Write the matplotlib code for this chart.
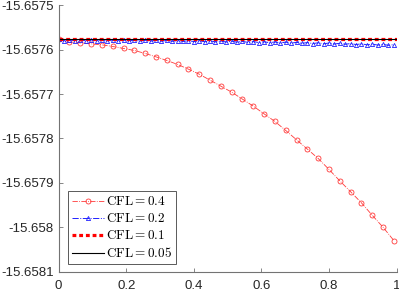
import matplotlib
matplotlib.use("Agg")
import matplotlib.pyplot as plt

plt.rcParams["font.family"] = ["Liberation Sans", "DejaVu Sans"]
plt.rcParams["mathtext.fontset"] = "cm"

BASE = -15.657577  # level of the converged (flat) solutions

# CFL=0.4: time levels and drop below BASE, in units of 1e-4
T_04 = [0.032 * i for i in range(32)]
DROP_04 = [0.0, 0.068, 0.077, 0.099, 0.122, 0.158, 0.203, 0.248, 0.315, 0.392,
           0.473, 0.563, 0.669, 0.782, 0.917, 1.052, 1.187, 1.345, 1.502, 1.676,
           1.847, 2.05, 2.26, 2.47, 2.68, 2.928, 3.185, 3.43, 3.68, 3.96, 4.23, 4.53]

# CFL=0.2
T_02 = [0.016 * i for i in range(63)]
DROP_02 = [0.00, 0.03, 0.01, 0.03, 0.01, 0.03, 0.01, 0.03, 0.01, 0.03,
           0.013, 0.033, 0.014, 0.034, 0.015, 0.036, 0.017, 0.038, 0.019, 0.040,
           0.021, 0.042, 0.024, 0.045, 0.027, 0.048, 0.030, 0.051, 0.033, 0.055,
           0.036, 0.058, 0.040, 0.062, 0.044, 0.066, 0.048, 0.070, 0.052, 0.074,
           0.056, 0.078, 0.060, 0.083, 0.065, 0.088, 0.070, 0.093, 0.075, 0.098,
           0.080, 0.103, 0.086, 0.109, 0.092, 0.115, 0.098, 0.121, 0.104, 0.127,
           0.110, 0.133, 0.116]

# CFL=0.1 and CFL=0.05 stay on BASE
T_01 = [0.0, 1.0]
DROP_01 = [0.0, 0.0]
T_005 = [0.0, 1.0]
DROP_005 = [0.0, 0.0]

YTICKS = [-15.6581, -15.658, -15.6579, -15.6578, -15.6577, -15.6576, -15.6575]
YTICKLABELS = ["-15.6581", "-15.658", "-15.6579", "-15.6578", "-15.6577",
               "-15.6576", "-15.6575"]
XTICKS = [0, 0.2, 0.4, 0.6, 0.8, 1]
XTICKLABELS = ["0", "0.2", "0.4", "0.6", "0.8", "1"]


def vals(drop):
    return [BASE - d * 1e-4 for d in drop]


fig = plt.figure(figsize=(3.99, 2.92), dpi=100)
ax = fig.add_axes([0.147, 0.0695, 0.847, 0.9125])

ax.plot(T_04, vals(DROP_04), ls="-.", lw=0.6, color="#ff3a3a", marker="o",
        ms=3.6, mfc="none", mew=0.6, label=r"$\mathrm{CFL}=0.4$")
ax.plot(T_02, vals(DROP_02), ls="-.", lw=0.7, color="#2020ff", marker="^",
        ms=3.0, mfc="none", mew=0.6, label=r"$\mathrm{CFL}=0.2$")
ax.plot(T_01, vals(DROP_01), ls=(0, (1.2, 0.9)), lw=2.3, color="red",
        label=r"$\mathrm{CFL}=0.1$")
ax.plot(T_005, vals(DROP_005), ls="-", lw=0.8, color="black",
        label=r"$\mathrm{CFL}=0.05$")

ax.set_xlim(0, 1)
ax.set_ylim(-15.6581, -15.6575)
ax.set_yticks(YTICKS)
ax.set_yticklabels(YTICKLABELS)
ax.set_xticks(XTICKS)
ax.set_xticklabels(XTICKLABELS)

for side in ("top", "right"):
    ax.spines[side].set_visible(False)
for side in ("left", "bottom"):
    ax.spines[side].set_color("0.45")
    ax.spines[side].set_linewidth(0.8)
ax.tick_params(direction="in", length=3, width=0.6, color="0.45",
               labelsize=9.5, labelcolor="0.15")
ax.tick_params(axis="y", pad=3.5)
ax.tick_params(axis="x", pad=6)

leg = ax.legend(loc="lower left", bbox_to_anchor=(0.028, 0.028),
                borderaxespad=0, fontsize=9.5, handlelength=2.4,
                handletextpad=0.2, labelspacing=0.3, borderpad=0.3,
                fancybox=False, framealpha=1)
leg.get_frame().set_edgecolor("0.35")
leg.get_frame().set_linewidth(0.7)

fig.savefig("out.png", dpi=100)
